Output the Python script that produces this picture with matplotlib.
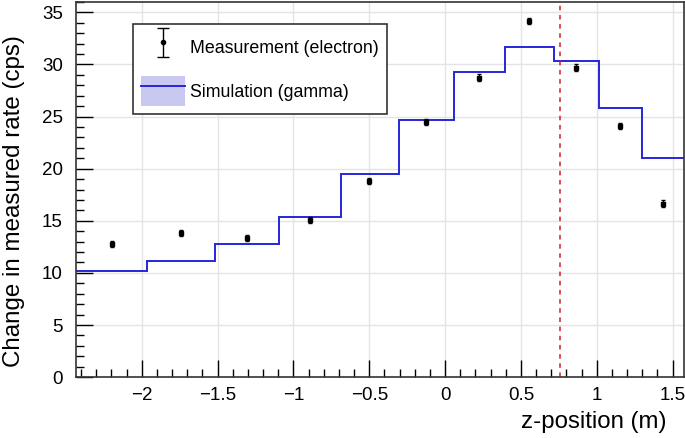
import numpy as np
import matplotlib
matplotlib.use("Agg")
from matplotlib import pyplot as plt
from matplotlib.patches import Patch
from matplotlib.lines import Line2D
from matplotlib.ticker import MultipleLocator
from matplotlib.legend_handler import HandlerErrorbar

plt.rcParams['font.family'] = ['Liberation Sans', 'DejaVu Sans']

# Simulation (gamma) histogram
bin_edges = [-2.433, -1.965, -1.517, -1.095, -0.688, -0.307, 0.059, 0.398, 0.715, 1.016, 1.300, 1.575]
sim_rate = [10.2, 11.1, 12.8, 15.4, 19.5, 24.7, 29.3, 31.7, 30.3, 25.8, 21.0]

# Measurement (electron)
meas_z = [-2.199, -1.738, -1.304, -0.890, -0.499, -0.124, 0.226, 0.556, 0.864, 1.155, 1.435]
meas_rate = [12.8, 13.8, 13.35, 15.1, 18.85, 24.45, 28.75, 34.2, 29.7, 24.1, 16.65]
meas_err = [0.3, 0.3, 0.3, 0.3, 0.3, 0.3, 0.3, 0.3, 0.3, 0.3, 0.3]

marker_z = 0.755

fig = plt.figure(figsize=(6.85, 4.38), dpi=100)
ax = fig.add_axes([0.111, 0.139, 0.8875, 0.8565])

ax.grid(True, color='#e4e4e4', lw=1)
ax.set_axisbelow(True)

ax.stairs(sim_rate, bin_edges, color='#2626d8', lw=1.4, baseline=None)
ax.errorbar(meas_z, meas_rate, yerr=meas_err, fmt='s', ms=3.5, color='black',
            ecolor='black', elinewidth=1, capsize=1.5, capthick=1)
ax.axvline(marker_z, color='#cc2222', ls=(0, (3, 3)), lw=1.1)

ax.set_xlim(bin_edges[0], bin_edges[-1])
ax.set_ylim(0, 36)
ax.xaxis.set_major_locator(MultipleLocator(0.5))
ax.xaxis.set_minor_locator(MultipleLocator(0.1))
ax.yaxis.set_major_locator(MultipleLocator(5))
ax.yaxis.set_minor_locator(MultipleLocator(1))
ax.tick_params(which='both', direction='in', top=False, right=False, labelsize=13.5, width=1)
ax.tick_params(which='major', length=12)
ax.tick_params(which='minor', length=6)
ax.tick_params(axis='x', pad=7)
ax.tick_params(axis='y', pad=9.4)
for s in ax.spines.values():
    s.set_color('#333333')
    s.set_linewidth(1.2)

ax.set_xticklabels([f"{v:g}".replace('-', '\u2212') for v in ax.get_xticks()])
ax.set_ylabel('Change in measured rate (cps)', fontsize=17.4)
ax.yaxis.set_label_coords(-0.084, 0.468)
ax.set_xlabel('z-position (m)', fontsize=17.3, ha='right')
ax.xaxis.set_label_coords(0.972, -0.09)

# legend handles
err_handle = ax.errorbar([np.nan], [np.nan], yerr=[1], fmt='o', ms=3, color='black',
                         elinewidth=1, capsize=4, capthick=1)
sim_handle = (Patch(facecolor='#c8c8f0', edgecolor='none'), Line2D([], [], color='#2626d8', lw=1.4))
leg = ax.legend([err_handle, sim_handle], ['Measurement (electron)', 'Simulation (gamma)'],
                handler_map={type(err_handle): HandlerErrorbar(yerr_size=0.8)},
                loc='upper left', bbox_to_anchor=(0.0938, 0.941), fontsize=12.8,
                fancybox=False, framealpha=1, edgecolor='#333333', handlelength=2.45,
                handleheight=2.2, borderpad=0.45, labelspacing=0.8, handletextpad=0.3,
                borderaxespad=0)
leg.get_frame().set_linewidth(1.2)

fig.savefig('out.png', dpi=100)
